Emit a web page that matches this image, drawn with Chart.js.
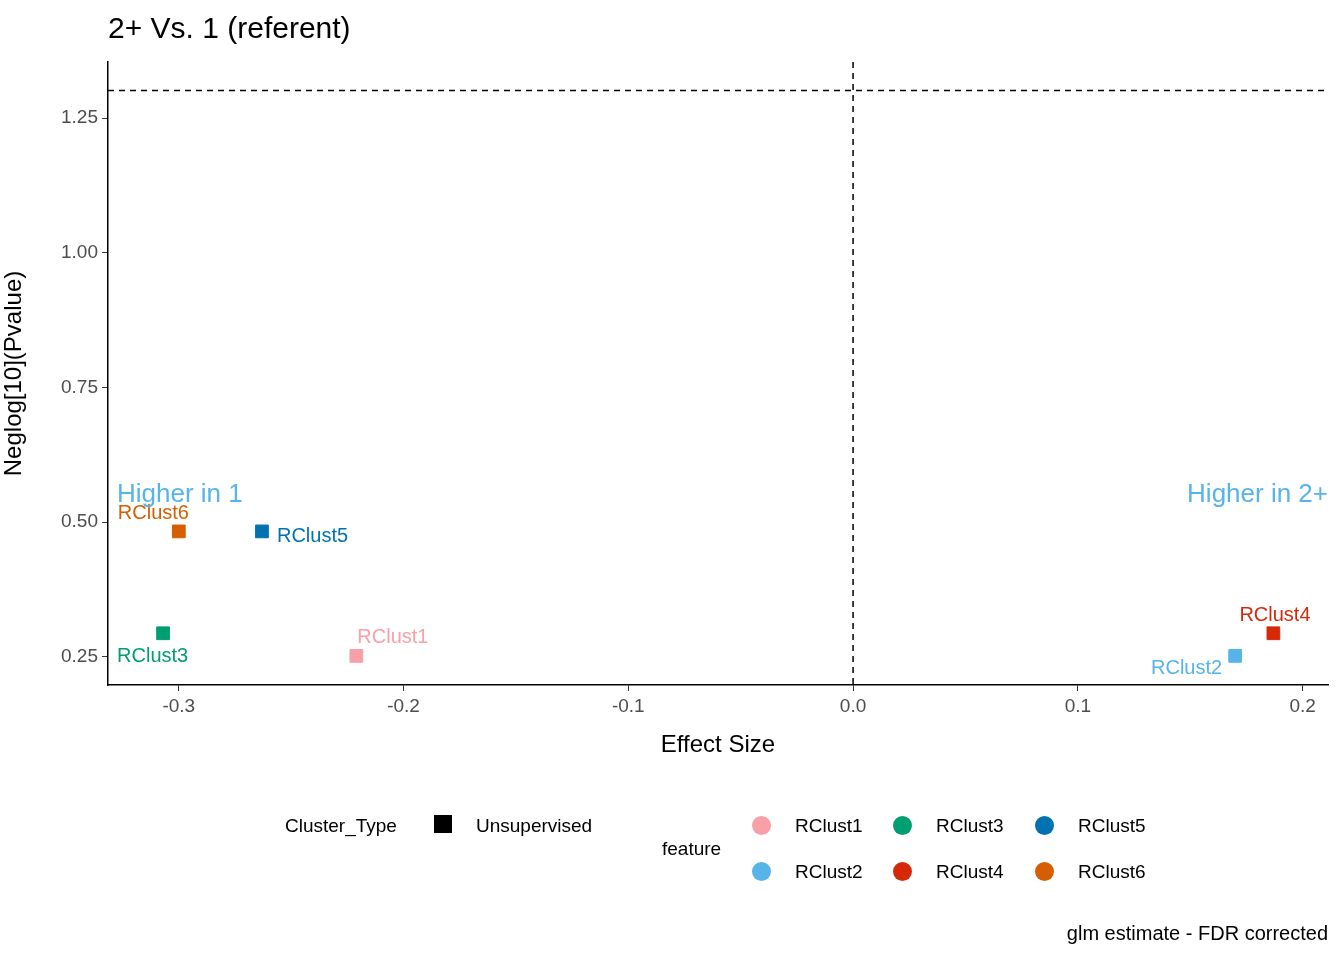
<!DOCTYPE html>
<html>
<head>
<meta charset="utf-8">
<script src="https://cdn.jsdelivr.net/npm/chart.js@4"></script>
<style>
  body { margin: 0; background: #fff; font-family: Arial, "Liberation Sans", sans-serif; }
  #wrap { position: relative; width: 1344px; height: 960px; }
  .lg { position: absolute; font-size: 19px; color: #000; white-space: nowrap; }
  .sq { position: absolute; width: 18px; height: 18px; background: #000; }
  .dot { position: absolute; width: 19px; height: 19px; border-radius: 50%; }
</style>
</head>
<body>
<div id="wrap">
  <canvas id="chart" width="1344" height="960"></canvas>
  <div class="lg" style="left:285px;top:815px">Cluster_Type</div>
  <div class="sq" style="left:434px;top:815px"></div>
  <div class="lg" style="left:476px;top:815px">Unsupervised</div>
  <div class="lg" style="left:662px;top:838px">feature</div>
  <div id="featLegend"></div>
  <div class="lg" style="right:16px;top:922px;font-size:20px">glm estimate - FDR corrected</div>
</div>
<script>
// Cluster features
const features = ['RClust1', 'RClust2', 'RClust3', 'RClust4', 'RClust5', 'RClust6'];
const effectSize = [-0.221, 0.170, -0.307, 0.187, -0.263, -0.300];
const negLogP = [0.252, 0.252, 0.294, 0.294, 0.483, 0.483];
const featureColors = ['#F8A0A8', '#56B4E9', '#009E73', '#D52A0A', '#0072B2', '#D55E00'];
const xTicks = [-0.3, -0.2, -0.1, 0.0, 0.1, 0.2];
const yTicks = [0.25, 0.50, 0.75, 1.00, 1.25];
const pThreshold = 1.301; // -log10(0.05)

// label offsets relative to the point (px) and alignment
const labelOffsets = {
    RClust1: [1, -18, 'left'], RClust2: [-13, 13, 'right'], RClust3: [-46, 23, 'left'],
    RClust4: [-34, -18, 'left'], RClust5: [15, 5, 'left'], RClust6: [-61, -18, 'left']
};

// feature legend
const leg = document.getElementById('featLegend');
const legPos = [[752, 815], [752, 861], [893, 815], [893, 861], [1035, 815], [1035, 861]];
features.forEach((f, i) => {
    const [lx, ly] = legPos[i];
    leg.innerHTML += `<div class="dot" style="left:${lx}px;top:${ly+1}px;background:${featureColors[i]}"></div>` +
        `<div class="lg" style="left:${lx + 43}px;top:${ly}px">${f}</div>`;
});

const overlayPlugin = {
    id: 'overlay',
    afterDatasetsDraw(chart) {
        const { ctx, chartArea: a, scales: { x, y } } = chart;
        ctx.save();
        ctx.setLineDash([6, 5]);
        ctx.strokeStyle = '#000';
        ctx.lineWidth = 1.5;
        const x0 = x.getPixelForValue(0);
        ctx.beginPath(); ctx.moveTo(x0, a.top); ctx.lineTo(x0, a.bottom); ctx.stroke();
        const yt = y.getPixelForValue(pThreshold);
        ctx.beginPath(); ctx.moveTo(a.left, yt); ctx.lineTo(a.right, yt); ctx.stroke();
        ctx.setLineDash([]);

        ctx.font = '20px Arial, "Liberation Sans"';
        ctx.textBaseline = 'middle';
        features.forEach((f, i) => {
            const px = x.getPixelForValue(effectSize[i]);
            const py = y.getPixelForValue(negLogP[i]);
            const [dx, dy, al] = labelOffsets[f];
            ctx.textAlign = al;
            ctx.fillStyle = featureColors[i];
            ctx.fillText(f, px + dx, py + dy);
        });

        ctx.font = '26px Arial, "Liberation Sans"';
        ctx.fillStyle = '#56B4E9';
        ctx.textAlign = 'left';
        ctx.fillText('Higher in 1', a.left + 9, 495);
        ctx.textAlign = 'right';
        ctx.fillText('Higher in 2+', a.right, 495);

        ctx.font = '30px Arial, "Liberation Sans"';
        ctx.fillStyle = '#000';
        ctx.textAlign = 'left';
        ctx.fillText('2+ Vs. 1 (referent)', 108, 30);
        ctx.restore();
    }
};

new Chart(document.getElementById('chart'), {
    type: 'scatter',
    data: {
        datasets: [{
            data: features.map((f, i) => ({ x: effectSize[i], y: negLogP[i] })),
            pointStyle: 'rect',
            pointRadius: 9,
            pointHoverRadius: 9,
            backgroundColor: featureColors,
            borderColor: featureColors
        }]
    },
    options: {
        responsive: false,
        animation: false,
        layout: { padding: { top: 62, right: 16, bottom: 200, left: 0 } },
        plugins: { legend: { display: false }, tooltip: { enabled: false } },
        scales: {
            x: {
                type: 'linear', min: -0.3315, max: 0.2113,
                afterBuildTicks: s => { s.ticks = xTicks.map(v => ({ value: v })); },
                afterFit: s => { s.height = 75; },
                ticks: { color: '#4d4d4d', font: { size: 19 }, callback: v => v.toFixed(1), padding: 4 },
                grid: { drawOnChartArea: false, drawTicks: true, tickLength: 6, color: '#333' },
                border: { color: '#000', width: 1.5 },
                title: { display: true, text: 'Effect Size', color: '#000', font: { size: 24 }, padding: 0 }
            },
            y: {
                type: 'linear', min: 0.198, max: 1.354,
                afterBuildTicks: s => { s.ticks = yTicks.map(v => ({ value: v })); },
                afterFit: s => { s.width = 108; },
                ticks: { color: '#4d4d4d', font: { size: 19 }, callback: v => v.toFixed(2), padding: 4 },
                grid: { drawOnChartArea: false, drawTicks: true, tickLength: 6, color: '#333' },
                border: { color: '#000', width: 1.5 },
                title: { display: true, text: 'Neglog[10](Pvalue)', color: '#000', font: { size: 24 }, padding: 0 }
            }
        }
    },
    plugins: [overlayPlugin]
});
</script>
</body>
</html>
